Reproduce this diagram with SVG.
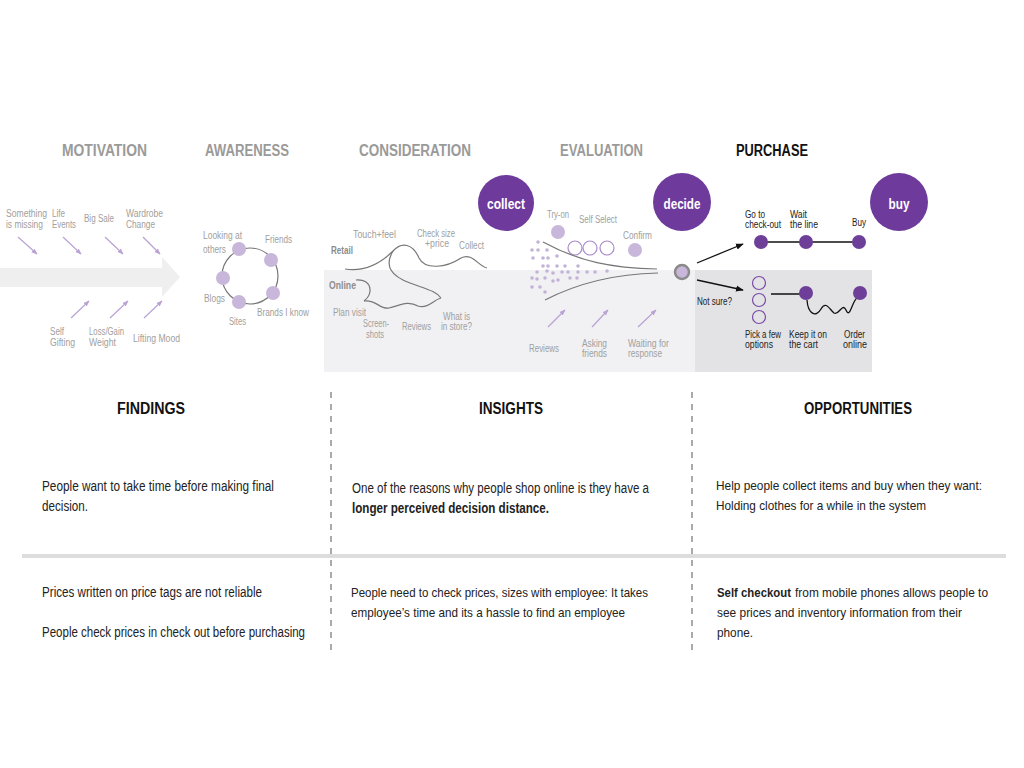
<svg xmlns="http://www.w3.org/2000/svg" width="1024" height="768" viewBox="0 0 1024 768">
<defs>
<marker id="la" viewBox="0 0 10 10" refX="9" refY="5" markerWidth="5" markerHeight="5" orient="auto"><path d="M0,1 L10,5 L0,9 z" fill="#b9a2d4"/></marker>
<marker id="ba" viewBox="0 0 10 10" refX="9" refY="5" markerWidth="6" markerHeight="6" orient="auto"><path d="M0,1 L10,5 L0,9 z" fill="#111"/></marker>
<style>
text{font-family:"Liberation Sans",Arial,sans-serif}
.stage{font-size:16px;font-weight:bold;fill:#9a9a9a;text-anchor:middle}
.cur{fill:#111}
.lab{font-size:10px;fill:#a0a0a0}
.dk{fill:#222}
.sub{font-size:10px;font-weight:bold;fill:#8c8c8c}
.big{font-size:15px;font-weight:bold;fill:#fff;text-anchor:middle}
.head{font-size:16px;font-weight:bold;fill:#111;text-anchor:middle}
.body{font-size:14px;fill:#222}
.r{font-size:13px}
.b{font-weight:bold}
.node{fill:#c8b7da}
.ring{fill:#fff;stroke:#a98bcb;stroke-width:1.2}
.ring2{fill:none;stroke:#7a4aa8;stroke-width:1.2}
.dark{fill:#6e3f98}
.hub{fill:#6e3b9c}
.arr{stroke:#b9a2d4;stroke-width:1.2;fill:none;marker-end:url(#la)}
.gline{stroke:#777;stroke-width:1.2;fill:none}
.kline{stroke:#111;stroke-width:1.3;fill:none}
.dot{fill:#c3b3d6}
</style>
</defs>
<rect width="1024" height="768" fill="#fff"/>

<g id="stages">
<text class="stage" x="104.5" y="156" textLength="85" lengthAdjust="spacingAndGlyphs">MOTIVATION</text>
<text class="stage" x="247" y="156" textLength="84" lengthAdjust="spacingAndGlyphs">AWARENESS</text>
<text class="stage" x="415" y="156" textLength="112" lengthAdjust="spacingAndGlyphs">CONSIDERATION</text>
<text class="stage" x="601.5" y="156" textLength="83" lengthAdjust="spacingAndGlyphs">EVALUATION</text>
<text class="stage cur" x="772" y="156" textLength="72" lengthAdjust="spacingAndGlyphs">PURCHASE</text>
</g>

<g id="panels">
<rect x="324" y="270" width="371" height="102" fill="#f1f1f3"/>
<rect x="695" y="270" width="177" height="102" fill="#e3e3e5"/>
</g>

<g id="motivation">
<path d="M0,268 L162,268 L162,257 L180,277 L162,297 L162,287 L0,287 Z" fill="#efefef"/>
<text class="lab" x="6" y="217" textLength="41" lengthAdjust="spacingAndGlyphs">Something</text>
<text class="lab" x="6" y="228" textLength="37" lengthAdjust="spacingAndGlyphs">is missing</text>
<text class="lab" x="52" y="217" textLength="13" lengthAdjust="spacingAndGlyphs">Life</text>
<text class="lab" x="52" y="228" textLength="24" lengthAdjust="spacingAndGlyphs">Events</text>
<text class="lab" x="84" y="222" textLength="30" lengthAdjust="spacingAndGlyphs">Big Sale</text>
<text class="lab" x="126" y="217" textLength="37" lengthAdjust="spacingAndGlyphs">Wardrobe</text>
<text class="lab" x="126" y="228" textLength="29" lengthAdjust="spacingAndGlyphs">Change</text>
<text class="lab" x="50" y="335" textLength="14" lengthAdjust="spacingAndGlyphs">Self</text>
<text class="lab" x="50" y="346" textLength="25" lengthAdjust="spacingAndGlyphs">Gifting</text>
<text class="lab" x="89" y="335" textLength="35" lengthAdjust="spacingAndGlyphs">Loss/Gain</text>
<text class="lab" x="89" y="346" textLength="27" lengthAdjust="spacingAndGlyphs">Weight</text>
<text class="lab" x="133" y="342" textLength="47" lengthAdjust="spacingAndGlyphs">Lifting Mood</text>
</g>

<g id="awareness">
<circle class="gline" cx="250" cy="276" r="28"/>
<circle class="node" cx="239" cy="249" r="7"/>
<circle class="node" cx="271" cy="260" r="7"/>
<circle class="node" cx="273" cy="293" r="7"/>
<circle class="node" cx="239" cy="302" r="7"/>
<circle class="node" cx="223" cy="278" r="7"/>
<text class="lab" x="203" y="239" textLength="39" lengthAdjust="spacingAndGlyphs">Looking at</text>
<text class="lab" x="203" y="253" textLength="23" lengthAdjust="spacingAndGlyphs">others</text>
<text class="lab" x="265" y="243" textLength="27" lengthAdjust="spacingAndGlyphs">Friends</text>
<text class="lab" x="204" y="302" textLength="21" lengthAdjust="spacingAndGlyphs">Blogs</text>
<text class="lab" x="229" y="325" textLength="17" lengthAdjust="spacingAndGlyphs">Sites</text>
<text class="lab" x="257" y="316" textLength="52" lengthAdjust="spacingAndGlyphs">Brands I know</text>
</g>

<g id="consideration">
<circle class="hub" cx="506" cy="203" r="28"/>
<text class="big" x="506" y="209" textLength="38" lengthAdjust="spacingAndGlyphs">collect</text>
<text class="sub" x="331" y="254" textLength="22" lengthAdjust="spacingAndGlyphs">Retail</text>
<text class="sub" x="329" y="289" textLength="27" lengthAdjust="spacingAndGlyphs">Online</text>
<text class="lab" x="353" y="238" textLength="43" lengthAdjust="spacingAndGlyphs">Touch+feel</text>
<text class="lab" x="417" y="237" textLength="38" lengthAdjust="spacingAndGlyphs">Check size</text>
<text class="lab" x="425" y="247" textLength="24" lengthAdjust="spacingAndGlyphs">+price</text>
<text class="lab" x="459" y="249" textLength="25" lengthAdjust="spacingAndGlyphs">Collect</text>
<text class="lab" x="333" y="316" textLength="33" lengthAdjust="spacingAndGlyphs">Plan visit</text>
<text class="lab" x="363" y="327" textLength="26" lengthAdjust="spacingAndGlyphs">Screen-</text>
<text class="lab" x="366" y="338" textLength="18" lengthAdjust="spacingAndGlyphs">shots</text>
<text class="lab" x="402" y="330" textLength="29" lengthAdjust="spacingAndGlyphs">Reviews</text>
<text class="lab" x="443" y="320" textLength="27" lengthAdjust="spacingAndGlyphs">What is</text>
<text class="lab" x="441" y="330" textLength="31" lengthAdjust="spacingAndGlyphs">in store?</text>
</g>

<g id="evaluation">
<circle class="hub" cx="682" cy="202" r="29"/>
<text class="big" x="682" y="209" textLength="37" lengthAdjust="spacingAndGlyphs">decide</text>
<text class="lab" x="547" y="218" textLength="22" lengthAdjust="spacingAndGlyphs">Try-on</text>
<text class="lab" x="579" y="223" textLength="38" lengthAdjust="spacingAndGlyphs">Self Select</text>
<text class="lab" x="623" y="239" textLength="29" lengthAdjust="spacingAndGlyphs">Confirm</text>
<circle class="node" cx="558" cy="232" r="7"/>
<circle class="ring" cx="575" cy="248" r="7"/>
<circle class="ring" cx="590" cy="248" r="7"/>
<circle class="ring" cx="607" cy="248" r="7"/>
<circle class="node" cx="635" cy="250" r="7"/>
<g id="dots">
<circle class="dot" cx="538" cy="242" r="1.8"/><circle class="dot" cx="532" cy="250" r="1.8"/><circle class="dot" cx="538" cy="250" r="1.8"/><circle class="dot" cx="547" cy="250" r="1.8"/>
<circle class="dot" cx="533" cy="258" r="1.8"/><circle class="dot" cx="543" cy="258" r="1.8"/><circle class="dot" cx="548" cy="258" r="1.8"/><circle class="dot" cx="557" cy="256" r="1.8"/>
<circle class="dot" cx="543" cy="266" r="1.8"/><circle class="dot" cx="548" cy="266" r="1.8"/><circle class="dot" cx="557" cy="266" r="1.8"/><circle class="dot" cx="565" cy="266" r="1.8"/><circle class="dot" cx="578" cy="266" r="1.8"/>
<circle class="dot" cx="537" cy="272" r="1.8"/><circle class="dot" cx="547" cy="271" r="1.8"/><circle class="dot" cx="553" cy="273" r="1.8"/><circle class="dot" cx="562" cy="272" r="1.8"/><circle class="dot" cx="568" cy="272" r="1.8"/><circle class="dot" cx="578" cy="272" r="1.8"/><circle class="dot" cx="587" cy="272" r="1.8"/><circle class="dot" cx="595" cy="272" r="1.8"/><circle class="dot" cx="607" cy="271" r="1.8"/>
<circle class="dot" cx="532" cy="278" r="1.8"/><circle class="dot" cx="537" cy="279" r="1.8"/><circle class="dot" cx="545" cy="278" r="1.8"/><circle class="dot" cx="553" cy="281" r="1.8"/><circle class="dot" cx="558" cy="280" r="1.8"/><circle class="dot" cx="570" cy="278" r="1.8"/><circle class="dot" cx="577" cy="278" r="1.8"/>
<circle class="dot" cx="532" cy="287" r="1.8"/><circle class="dot" cx="540" cy="287" r="1.8"/><circle class="dot" cx="545" cy="292" r="1.8"/>
</g>
<circle cx="682" cy="272" r="7" fill="#c8b7da" stroke="#8a8a8a" stroke-width="2.5"/>
<text class="lab" x="529" y="352" textLength="30" lengthAdjust="spacingAndGlyphs">Reviews</text>
<text class="lab" x="582" y="347" textLength="25" lengthAdjust="spacingAndGlyphs">Asking</text>
<text class="lab" x="582" y="357" textLength="25" lengthAdjust="spacingAndGlyphs">friends</text>
<text class="lab" x="628" y="347" textLength="41" lengthAdjust="spacingAndGlyphs">Waiting for</text>
<text class="lab" x="628" y="357" textLength="34" lengthAdjust="spacingAndGlyphs">response</text>
</g>

<g id="purchase">
<circle class="hub" cx="899" cy="202" r="29"/>
<text class="big" x="899" y="209" textLength="21" lengthAdjust="spacingAndGlyphs">buy</text>
<text class="lab dk" x="745" y="218" textLength="20" lengthAdjust="spacingAndGlyphs">Go to</text>
<text class="lab dk" x="745" y="228" textLength="36" lengthAdjust="spacingAndGlyphs">check-out</text>
<text class="lab dk" x="790" y="218" textLength="17" lengthAdjust="spacingAndGlyphs">Wait</text>
<text class="lab dk" x="790" y="228" textLength="28" lengthAdjust="spacingAndGlyphs">the line</text>
<text class="lab dk" x="852" y="226" textLength="14" lengthAdjust="spacingAndGlyphs">Buy</text>
<text class="lab dk" x="697" y="305" textLength="35" lengthAdjust="spacingAndGlyphs">Not sure?</text>
<text class="lab dk" x="745" y="338" textLength="36" lengthAdjust="spacingAndGlyphs">Pick a few</text>
<text class="lab dk" x="745" y="348" textLength="28" lengthAdjust="spacingAndGlyphs">options</text>
<text class="lab dk" x="789" y="338" textLength="38" lengthAdjust="spacingAndGlyphs">Keep it on</text>
<text class="lab dk" x="789" y="348" textLength="29" lengthAdjust="spacingAndGlyphs">the cart</text>
<text class="lab dk" x="844" y="338" textLength="21" lengthAdjust="spacingAndGlyphs">Order</text>
<text class="lab dk" x="843" y="348" textLength="24" lengthAdjust="spacingAndGlyphs">online</text>
<circle class="ring2" cx="759" cy="283" r="6.5"/>
<circle class="ring2" cx="759" cy="300" r="6.5"/>
<circle class="ring2" cx="759" cy="317" r="6.5"/>
</g>

<g id="connectors">
<line class="arr" x1="18" y1="237" x2="37" y2="254"/>
<line class="arr" x1="63" y1="237" x2="81" y2="254"/>
<line class="arr" x1="105" y1="237" x2="123" y2="254"/>
<line class="arr" x1="143" y1="237" x2="160" y2="254"/>
<line class="arr" x1="71" y1="318" x2="89" y2="301"/>
<line class="arr" x1="110" y1="318" x2="128" y2="301"/>
<line class="arr" x1="144" y1="318" x2="162" y2="301"/>
<line class="arr" x1="548" y1="327" x2="565" y2="310"/>
<line class="arr" x1="592" y1="327" x2="608" y2="310"/>
<line class="arr" x1="638" y1="327" x2="656" y2="310"/>
<path class="gline" d="M345,269 C365,272 381,263 393,251 C402,241 413,244 419,258 C425,270 446,268 461,258 C472,252 478,266 487,268"/>
<path class="gline" d="M393,251 C384,266 391,276 410,283 C426,289 436,291 441,298"/>
<path class="gline" d="M356,280 C372,279 374,294 364,301"/>
<path class="gline" d="M364,301 C376,299 380,310 389,308 C399,306 407,300 418,306 C428,309 433,300 441,298"/>
<path class="gline" d="M543,242 C580,262 612,268 657,269"/>
<path class="gline" d="M545,300 C576,284 612,274 658,273"/>
<line class="kline" x1="697" y1="263" x2="743" y2="244" marker-end="url(#ba)"/>
<line class="kline" x1="697" y1="280" x2="743" y2="290" marker-end="url(#ba)"/>
<line class="kline" x1="761" y1="242" x2="859" y2="242"/>
<line class="kline" x1="771" y1="294" x2="806" y2="294"/>
<path class="kline" d="M807,300 C808,314 816,318 821,309 C826,300 830,310 834,313 C839,316 842,302 846,310 C850,320 852,300 858,297"/>
</g>

<g id="purchase-nodes">
<circle class="dark" cx="761" cy="242" r="7"/>
<circle class="dark" cx="806" cy="242" r="7"/>
<circle class="dark" cx="859" cy="242" r="7"/>
<circle class="dark" cx="806" cy="293" r="7"/>
<circle class="dark" cx="860" cy="293" r="7"/>
</g>

<g id="grid">
<line x1="331" y1="392" x2="331" y2="652" stroke="#aaa" stroke-width="2" stroke-dasharray="6,6"/>
<line x1="692" y1="392" x2="692" y2="652" stroke="#aaa" stroke-width="2" stroke-dasharray="6,6"/>
<line x1="22" y1="556" x2="1006" y2="556" stroke="#ddd" stroke-width="4"/>
</g>

<g id="findings">
<text class="head" x="151" y="414" textLength="68" lengthAdjust="spacingAndGlyphs">FINDINGS</text>
<text class="body" x="42" y="491" textLength="232" lengthAdjust="spacingAndGlyphs">People want to take time before making final</text>
<text class="body" x="42" y="511" textLength="46" lengthAdjust="spacingAndGlyphs">decision.</text>
<text class="body" x="42" y="597" textLength="220" lengthAdjust="spacingAndGlyphs">Prices written on price tags are not reliable</text>
<text class="body" x="42" y="637" textLength="263" lengthAdjust="spacingAndGlyphs">People check prices in check out before purchasing</text>
</g>

<g id="insights">
<text class="head" x="511" y="414" textLength="64" lengthAdjust="spacingAndGlyphs">INSIGHTS</text>
<text class="body" x="352" y="493" textLength="297" lengthAdjust="spacingAndGlyphs">One of the reasons why people shop online is they have a</text>
<text class="body b" x="352" y="513" textLength="197" lengthAdjust="spacingAndGlyphs">longer perceived decision distance.</text>
<text class="body r" x="351" y="597" textLength="297" lengthAdjust="spacingAndGlyphs">People need to check prices, sizes with employee: It takes</text>
<text class="body r" x="351" y="617" textLength="274" lengthAdjust="spacingAndGlyphs">employee’s time and its a hassle to find an employee</text>
</g>

<g id="opportunities">
<text class="head" x="858" y="414" textLength="108" lengthAdjust="spacingAndGlyphs">OPPORTUNITIES</text>
<text class="body r" x="716" y="490" textLength="266" lengthAdjust="spacingAndGlyphs">Help people collect items and buy when they want:</text>
<text class="body r" x="716" y="510" textLength="210" lengthAdjust="spacingAndGlyphs">Holding clothes for a while in the system</text>
<text class="body r b" x="717" y="597" textLength="74" lengthAdjust="spacingAndGlyphs">Self checkout</text>
<text class="body r" x="795" y="597" textLength="193" lengthAdjust="spacingAndGlyphs">from mobile phones allows people to</text>
<text class="body r" x="717" y="617" textLength="245" lengthAdjust="spacingAndGlyphs">see prices and inventory information from their</text>
<text class="body r" x="717" y="637" textLength="36" lengthAdjust="spacingAndGlyphs">phone.</text>
</g>
</svg>
